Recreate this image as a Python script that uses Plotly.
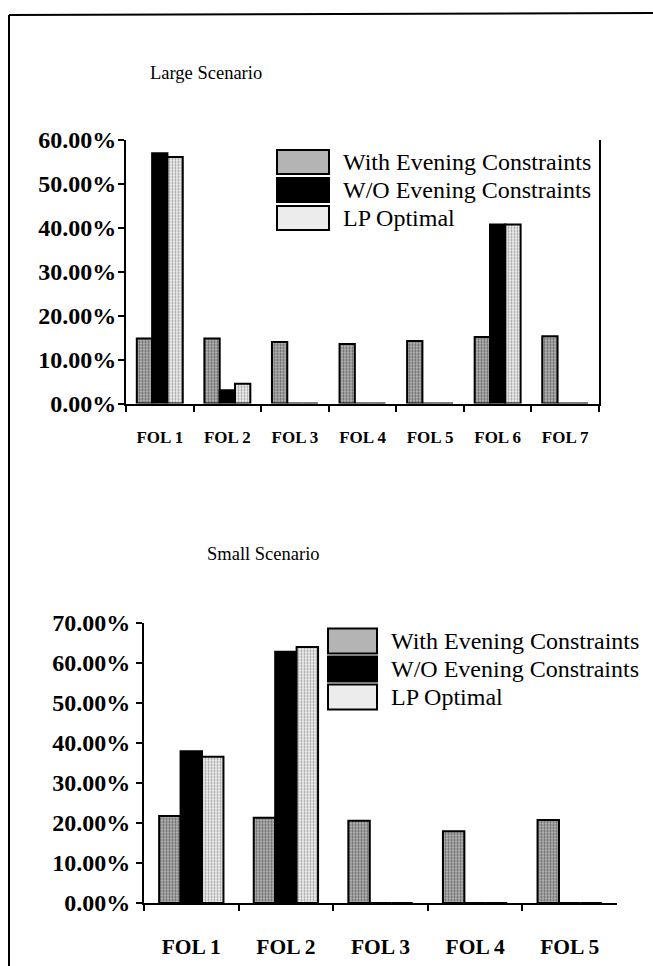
import plotly.graph_objects as go

# ---------------- data ----------------
series_names = ["With Evening Constraints", "W/O Evening Constraints", "LP Optimal"]

large_title = "Large Scenario"
large_cats = ["FOL 1", "FOL 2", "FOL 3", "FOL 4", "FOL 5", "FOL 6", "FOL 7"]
large_with = [0.148, 0.148, 0.140, 0.135, 0.142, 0.151, 0.153]
large_wo = [0.569, 0.030, 0.0, 0.0, 0.0, 0.407, 0.0]
large_lp = [0.560, 0.045, 0.0, 0.0, 0.0, 0.407, 0.0]
large_ticks = [0.0, 0.1, 0.2, 0.3, 0.4, 0.5, 0.6]

small_title = "Small Scenario"
small_cats = ["FOL 1", "FOL 2", "FOL 3", "FOL 4", "FOL 5"]
small_with = [0.217, 0.213, 0.205, 0.179, 0.207]
small_wo = [0.379, 0.627, 0.0, 0.0, 0.0]
small_lp = [0.365, 0.639, 0.0, 0.0, 0.0]
small_ticks = [0.0, 0.1, 0.2, 0.3, 0.4, 0.5, 0.6, 0.7]

# ---------------- styling ----------------
W, H = 653, 966
SERIF = "Liberation Serif"


def px(x):
    return x / W


def py(y):
    return 1 - y / H


styles = [
    dict(color="#a0a0a0", pattern=dict(shape=".", fgcolor="#5e5e5e", bgcolor="#b4b4b4",
                                       size=3, solidity=0.4, fillmode="replace")),
    dict(color="#000000"),
    dict(color="#dddddd", pattern=dict(shape=".", fgcolor="#999999", bgcolor="#ececec",
                                       size=3, solidity=0.3, fillmode="replace")),
]

fig = go.Figure()

panels = [
    dict(cats=large_cats, vals=[large_with, large_wo, large_lp], xa="x", ya="y"),
    dict(cats=small_cats, vals=[small_with, small_wo, small_lp], xa="x2", ya="y2"),
]
for p in panels:
    for name, vals, st in zip(series_names, p["vals"], styles):
        marker = dict(color=st["color"], line=dict(color="black", width=2))
        if "pattern" in st:
            marker["pattern"] = st["pattern"]
        fig.add_trace(go.Bar(x=p["cats"], y=vals, name=name, marker=marker,
                             xaxis=p["xa"], yaxis=p["ya"], showlegend=False))

axis_common = dict(showline=True, linecolor="black", linewidth=2, showgrid=False,
                   zeroline=False, ticks="outside", tickcolor="black", tickwidth=2,
                   ticklen=6, automargin=False)


def tfont(size):
    return dict(family=SERIF, size=size, color="black", weight="bold")


fig.update_layout(
    width=W, height=H, autosize=False,
    margin=dict(l=0, r=0, t=0, b=0, pad=0),
    paper_bgcolor="white", plot_bgcolor="white",
    barmode="group", bargap=0.32, bargroupgap=0,
    font=dict(family=SERIF, color="black"),
    xaxis=dict(domain=[px(126), px(599)], anchor="y", type="category",
               tickson="boundaries", tickfont=tfont(17), ticklabelstandoff=17,
               **axis_common),
    yaxis=dict(domain=[py(403.5), py(139.5)], anchor="x", range=[0, 0.6],
               tickvals=large_ticks, tickformat=".2%", tickfont=tfont(24),
               ticklabelstandoff=-3, mirror=True, **axis_common),
    xaxis2=dict(domain=[px(144), px(617)], anchor="y2", type="category",
                tickson="boundaries", tickfont=tfont(21.5), ticklabelstandoff=23,
                **axis_common),
    yaxis2=dict(domain=[py(903), py(622.5)], anchor="x2", range=[0, 0.7],
                tickvals=small_ticks, tickformat=".2%", tickfont=tfont(24),
                ticklabelstandoff=1, **axis_common),
)

# page frame (left and top edges visible)
fig.add_shape(type="line", xref="paper", yref="paper", x0=px(9), x1=px(9),
              y0=py(15), y1=py(966), line=dict(color="black", width=2))
fig.add_shape(type="line", xref="paper", yref="paper", x0=px(9), x1=px(653),
              y0=py(15), y1=py(13), line=dict(color="black", width=2))

# titles
fig.add_annotation(text=large_title, xref="paper", yref="paper", x=px(148), y=py(73),
                   xanchor="left", yanchor="middle", showarrow=False,
                   font=dict(family=SERIF, size=18.5, color="black"))
fig.add_annotation(text=small_title, xref="paper", yref="paper", x=px(205), y=py(554),
                   xanchor="left", yanchor="middle", showarrow=False,
                   font=dict(family=SERIF, size=18.5, color="black"))

# custom legends (big swatches like the original)
legends = [
    dict(bx0=277, bx1=329, ty=[162, 190, 218], bh=24, tx=341, size=24),
    dict(bx0=328, bx1=377, ty=[641, 669, 697], bh=25, tx=389, size=24),
]
for lg in legends:
    for name, st, ty in zip(series_names, styles, lg["ty"]):
        fill = st["pattern"]["bgcolor"] if "pattern" in st else st["color"]
        fig.add_shape(type="rect", xref="paper", yref="paper",
                      x0=px(lg["bx0"]), x1=px(lg["bx1"]),
                      y0=py(ty + lg["bh"] / 2), y1=py(ty - lg["bh"] / 2),
                      fillcolor=fill, line=dict(color="black", width=2))
        fig.add_annotation(text=name, xref="paper", yref="paper", x=px(lg["tx"]),
                           y=py(ty), xanchor="left", yanchor="middle", showarrow=False,
                           font=dict(family=SERIF, size=lg["size"], color="black"))

fig.write_html("out.html",
               config={"displayModeBar": False, "responsive": False},
               post_script="document.body.style.margin='0px';"
                           "document.body.style.overflow='hidden';")
